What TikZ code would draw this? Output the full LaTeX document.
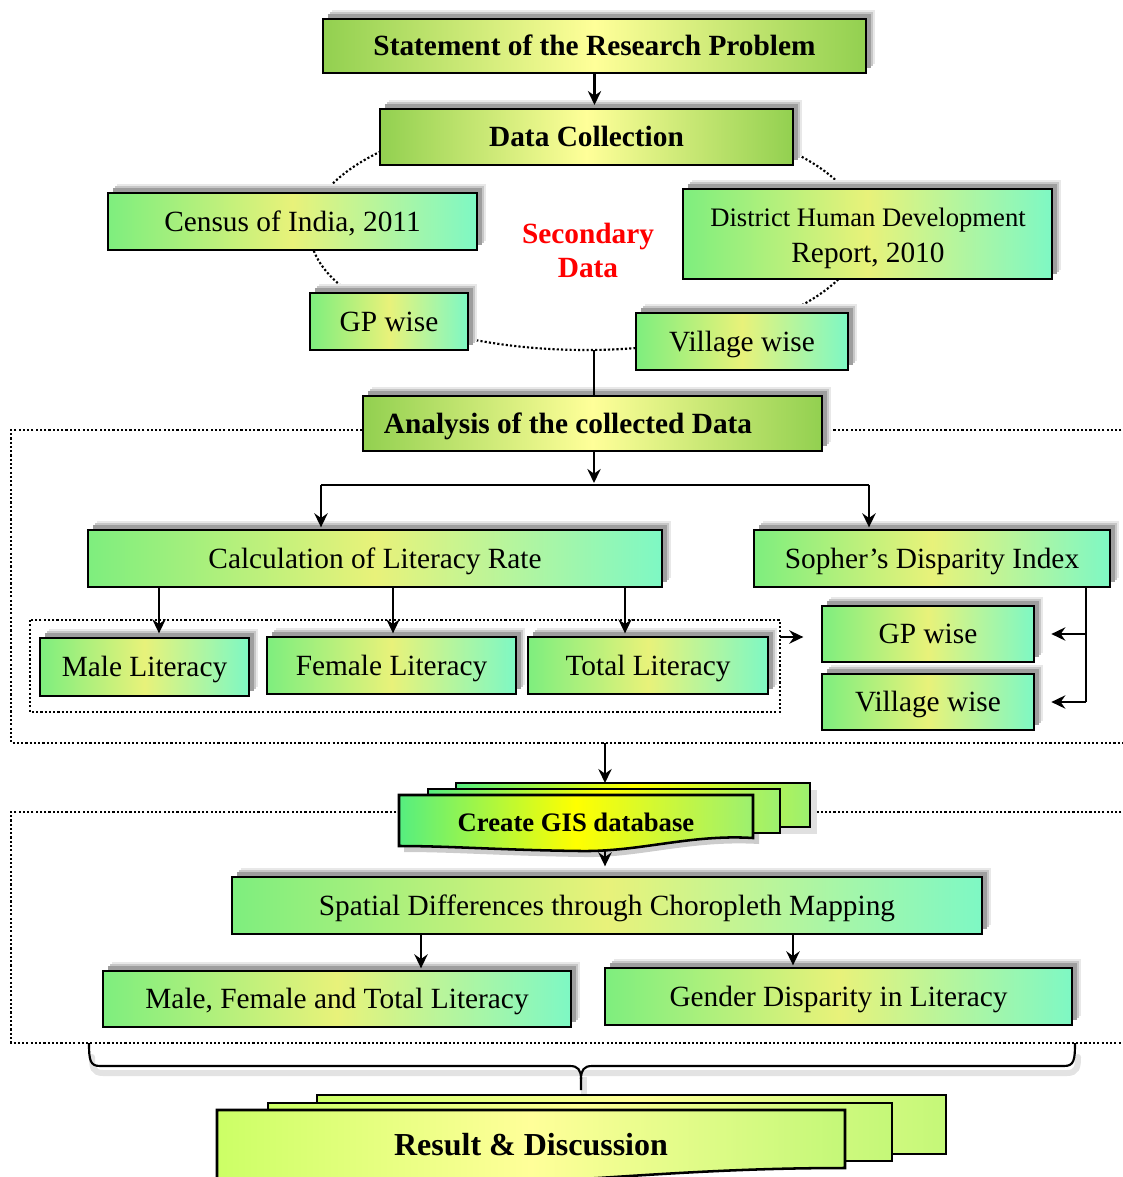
\documentclass[tikz,border=0pt]{standalone}
\usepackage{fontspec}
\setmainfont{Liberation Serif}
\usetikzlibrary{arrows.meta,shadows}
\definecolor{G1}{HTML}{92D050}
\definecolor{Y1}{HTML}{FFFF99}
\definecolor{L1}{HTML}{7EEE7E}
\definecolor{L2}{HTML}{E8F27A}
\definecolor{L3}{HTML}{7EF8C4}
\definecolor{S1}{HTML}{55EE80}
\definecolor{S2}{HTML}{FFFF00}
\definecolor{S3}{HTML}{9CF070}
\definecolor{R1}{HTML}{CCFF66}
\definecolor{R2}{HTML}{FFFF99}
\definecolor{R3}{HTML}{C4F878}
\newcommand\mybox[7]{\node[#6, minimum width={(#4-#2)*0.75pt}, minimum height={(#5-#3)*0.75pt}] (#1) at ({(#2+#4)/2},{(#3+#5)/2}) {#7};}
\tikzset{
 px/.style={x=0.75pt,y=-0.75pt},
 shad/.style={drop shadow={shadow xshift=6.5pt,shadow yshift=6.5pt,fill=black!9,opacity=1},
              drop shadow={shadow xshift=5pt,shadow yshift=5pt,fill=black!22,opacity=1},
              drop shadow={shadow xshift=3.5pt,shadow yshift=3.5pt,fill=black!38,opacity=1}},
 basebox/.style={draw=black, line width=1.9pt, inner sep=0pt, outer sep=0pt, shad, align=center, font=\fontsize{22}{27}\selectfont},
 one/.style={text height=16pt, text depth=1.6pt},
 gbox/.style={basebox, one, left color=G1, right color=G1, middle color=Y1, font=\fontsize{22}{27}\selectfont\bfseries},
 lbox/.style={basebox, one, left color=L1, right color=L3, middle color=L2},
 lboxm/.style={basebox, left color=L1, right color=L3, middle color=L2},
 sheet/.style={draw=black, line width=1.9pt},
 arr/.style={line width=1.6pt, -{Stealth[length=10.5pt,width=10pt,inset=3.5pt]}},
 ln/.style={line width=1.6pt},
 dotln/.style={line width=1.6pt, dash pattern=on 1.6pt off 1.6pt},
 btxt/.style={font=\fontsize{22}{27}\selectfont\bfseries, inner sep=0pt},
}
\begin{document}
\begin{tikzpicture}[px]
\path[use as bounding box] (0,0) rectangle (1123,1177);
\clip (0,0) rectangle (1123,1177);

% dotted ellipse and frames
\draw[dotln] (586,231) ellipse [x radius=207pt, y radius=89.25pt];
\draw[dotln] (1130,430) -- (11,430) -- (11,743) -- (1130,743);
\draw[dotln] (30,620) rectangle (780,712);
\draw[dotln] (1130,812) -- (11,812) -- (11,1043) -- (1130,1043);

% top part
\mybox{stmt}{323}{19}{866}{73}{gbox}{Statement of the Research Problem}
\mybox{dc}{380}{109}{793}{165}{gbox}{Data Collection}
\mybox{census}{108}{193}{477}{250}{lbox}{Census of India, 2011}
\mybox{dhdr}{683}{189}{1052}{279}{lboxm}{}
\node[align=center, inner sep=0pt, font=\fontsize{22}{27}\selectfont] (dhdrt) at (868,238) {{\fontsize{20}{27}\selectfont District Human Development}\\Report, 2010};
\mybox{gp1}{310}{293}{468}{350}{lbox}{GP wise}
\mybox{vil1}{636}{313}{848}{370}{lbox}{Village wise}
\node[btxt, text=red, align=center] (sec) at (588,250) {Secondary\\[-1.5pt]Data};

% analysis
\mybox{anal}{363}{396}{822}{451}{gbox}{}
\node[btxt, one] (analt) at (568,424) {Analysis of the collected Data};
\mybox{calc}{88}{530}{662}{587}{lbox}{Calculation of Literacy Rate}
\mybox{soph}{754}{530}{1110}{587}{lbox}{Sopher’s Disparity Index}
\mybox{male}{40}{638}{249}{696}{lbox}{Male Literacy}
\mybox{fem}{267}{637}{516}{694}{lbox}{Female Literacy}
\mybox{tot}{528}{637}{768}{694}{lbox}{Total Literacy}
\mybox{gp2}{822}{606}{1034}{662}{lbox}{GP wise}
\mybox{vil2}{822}{674}{1034}{730}{lbox}{Village wise}

% GIS multi document
\fill[black!12] (462,790) rectangle (817,834);
\fill[black!20] (404,801) -- (759,801) -- (759,844) .. controls (690,840) and (640,858) .. (585,857) .. controls (505,856) and (455,852) .. (404,852) -- cycle;
\path[sheet, left color=S1, right color=S3, middle color=S2] (456,783) rectangle (810,827);
\path[sheet, left color=S1, right color=S3, middle color=S2] (428,789) rectangle (780,833);
\path[sheet, left color=S1, right color=S3, middle color=S2] (399,795) -- (753,795) -- (753,838) .. controls (690,834) and (640,852) .. (580,851) .. controls (500,850) and (450,846) .. (399,846) -- cycle;
\node[btxt, font=\fontsize{20}{24}\selectfont\bfseries] (gis) at (576,822) {Create GIS database};

% spatial
\mybox{spat}{232}{877}{982}{934}{lbox}{Spatial Differences through Choropleth Mapping}
\mybox{mft}{103}{971}{571}{1027}{lbox}{Male, Female and Total Literacy}
\mybox{gend}{605}{968}{1072}{1025}{lbox}{Gender Disparity in Literacy}

% brace
\begin{scope}[shift={(3,7)}]
\draw[line width=4.5pt, black!11, line cap=round] (89,1050) .. controls (89,1060) and (90,1066) .. (100,1066) -- (1064,1066) .. controls (1074,1066) and (1075,1060) .. (1075,1050);
\draw[line width=4.5pt, black!11] (581,1070) -- (581,1090);
\end{scope}
\draw[ln] (89,1043) .. controls (89,1060) and (90,1066) .. (100,1066) -- (570,1066) .. controls (578,1066) and (581,1070) .. (581,1079) -- (581,1090);
\draw[ln] (1075,1043) .. controls (1075,1060) and (1074,1066) .. (1064,1066) -- (592,1066) .. controls (584,1066) and (581,1070) .. (581,1079);

% result multi document
\path[sheet, left color=R1, right color=R3, middle color=R2] (317,1095) rectangle (946,1154);
\path[sheet, left color=R1, right color=R3, middle color=R2] (268,1103) rectangle (892,1161);
\path[sheet, left color=R1, right color=R3, middle color=R2] (217,1110) -- (845,1110) -- (845,1168) .. controls (700,1168) and (600,1180) .. (500,1183) -- (217,1190) -- cycle;
\node[btxt, font=\fontsize{24}{28}\selectfont\bfseries] (res) at (531,1145) {Result \& Discussion};

% connectors
\draw[arr, shorten >=3pt] (stmt.south) -- (stmt.south |- dc.north);
\coordinate (ebot) at (594,350);
\draw[ln] (ebot) -- (ebot |- anal.north);
\coordinate (split) at (594,485);
\draw[arr] (anal.south -| split) -- ([yshift=1.5pt]split);
\coordinate (cA) at (321,485);
\coordinate (cB) at (869,485);
\draw[ln] (cA) -- (cB);
\draw[arr, shorten >=2pt] (cA) -- (cA |- calc.north);
\draw[arr, shorten >=2pt] (cB) -- (cB |- soph.north);
\coordinate (g1) at (159,620);
\coordinate (g2) at (393,620);
\coordinate (g3) at (625,620);
\draw[arr] (g1 |- calc.south) -- ([yshift=-10]g1);
\draw[arr] (g2 |- calc.south) -- ([yshift=-10]g2);
\draw[arr] (g3 |- calc.south) -- ([yshift=-10]g3);
\coordinate (grpR) at (780,637);
\draw[arr] (grpR) -- ([xshift=-14]gp2.west |- grpR);
\coordinate (sx) at (1086,587);
\draw[ln] (sx |- soph.south) -- (sx |- vil2);
\draw[arr] (sx |- gp2) -- ([xshift=13]gp2.east);
\draw[arr] (sx |- vil2) -- ([xshift=13]vil2.east);
\coordinate (r1b) at (605,743);
\coordinate (gisTop) at (605,783);
\draw[arr] (r1b) -- (gisTop);
\coordinate (gisBot) at (605,849);
\draw[arr, shorten >=8pt] (gisBot) -- (gisBot |- spat.north);
\coordinate (sa) at (421,934);
\coordinate (sb) at (793,934);
\draw[arr, shorten >=2pt] (sa) -- (sa |- mft.north);
\draw[arr, shorten >=2pt] (sb) -- (sb |- gend.north);
\end{tikzpicture}
\end{document}
